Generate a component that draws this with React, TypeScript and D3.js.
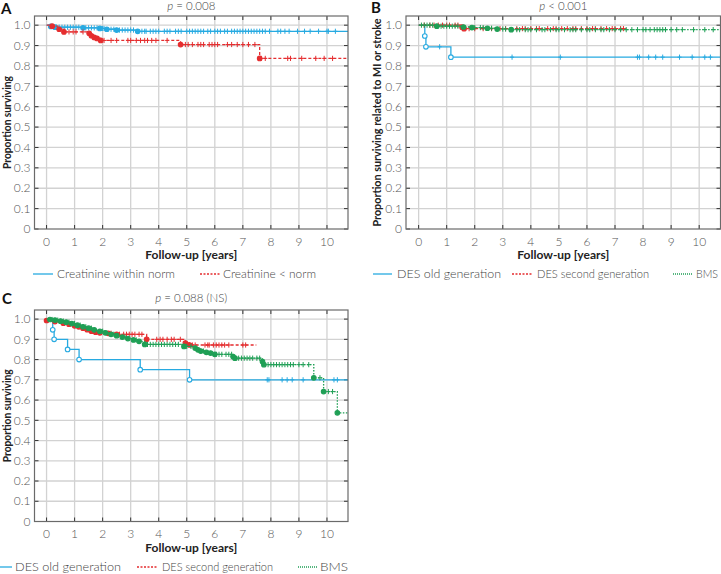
import React from 'react';
import * as d3 from 'd3';

// ---------- shared tick values ----------
const xTickValues = [0, 1, 2, 3, 4, 5, 6, 7, 8, 9, 10];
const yTickValues = [0, 0.1, 0.2, 0.3, 0.4, 0.5, 0.6, 0.7, 0.8, 0.9, 1.0];
const yTickLabels = ['0', '0.1', '0.2', '0.3', '0.4', '0.5', '0.6', '0.7', '0.8', '0.9', '1.0'];

// ---------- Panel A: creatinine ----------
const aBlueTimes = [0.15, 0.3, 1.3, 1.9, 2.15, 2.5, 3.25];
const aBlueSurv = [0.994, 0.99, 0.987, 0.984, 0.98, 0.976, 0.97];
const aBlueCensor = [0.35, 0.45, 0.55, 0.65, 0.75, 0.85, 0.95, 1.05, 1.15, 1.4, 1.5, 1.6, 1.7, 1.8, 2.0, 2.05, 2.3, 2.4, 2.6, 2.7, 2.8, 2.9, 3.0, 3.1, 3.4, 3.5, 3.55, 3.7, 3.8, 3.9, 4.0, 4.2, 4.3, 4.4, 4.6, 4.7, 4.8, 5.0, 5.1, 5.2, 5.3, 5.4, 5.5, 5.6, 5.75, 5.85, 6.0, 6.1, 6.2, 6.35, 6.45, 6.6, 6.7, 6.8, 6.9, 7.0, 7.1, 7.2, 7.3, 7.4, 7.5, 7.6, 7.7, 7.8, 7.95, 8.25, 8.35, 8.5, 8.65, 8.95, 9.2, 9.4, 9.7, 10.0, 10.05, 10.3];
const aRedTimes = [0.2, 0.45, 0.62, 1.52, 1.6, 1.7, 1.8, 1.93, 4.78, 7.6];
const aRedSurv = [0.995, 0.98, 0.967, 0.96, 0.948, 0.94, 0.935, 0.925, 0.905, 0.837];
const aRedCensor = [0.8, 0.95, 1.05, 1.3, 2.05, 2.3, 2.5, 2.9, 3.0, 3.2, 3.35, 3.5, 3.6, 3.75, 3.9, 4.3, 4.95, 5.05, 5.2, 5.4, 5.5, 5.6, 5.8, 5.9, 6.0, 6.1, 6.45, 6.6, 6.8, 7.0, 7.2, 7.43, 7.65, 7.8, 8.6, 8.7, 9.1, 9.6, 9.9, 10.2];

// ---------- Panel B: MI or stroke ----------
const bBlueTimes = [0.22, 0.26, 1.15];
const bBlueSurv = [0.947, 0.894, 0.843];
const bBlueCensor = [0.75, 3.33, 5.05, 7.8, 7.87, 8.2, 8.45, 8.7, 9.3, 9.75, 10.2, 10.4];
const bRedTimes = [1.55, 1.62];
const bRedSurv = [0.99, 0.983];
const bRedCensor = [0.2, 0.4, 0.55, 0.7, 0.85, 1.0, 1.1, 1.3, 1.4, 1.8, 2.0, 2.3, 2.6, 2.9, 3.1, 3.5, 3.7, 3.8, 4.0, 4.2, 4.3, 4.6, 4.8, 4.9, 5.1, 5.3, 5.5, 5.6, 5.8, 6.0, 6.2, 6.3, 6.5, 6.7, 6.9, 7.0, 7.2, 7.3];
const bGreenTimes = [0.65, 1.6, 1.9, 2.45, 2.8, 3.3];
const bGreenSurv = [0.995, 0.991, 0.988, 0.985, 0.981, 0.978];
const bGreenCensor = [0.1, 0.2, 0.3, 0.4, 0.5, 0.8, 0.9, 1.0, 1.1, 1.2, 1.3, 1.4, 2.0, 2.2, 2.3, 2.6, 3.0, 3.1, 3.5, 3.6, 3.8, 3.9, 4.0, 4.2, 4.4, 4.5, 4.7, 4.9, 5.0, 5.2, 5.4, 5.5, 5.6, 5.8, 6.0, 6.1, 6.3, 6.5, 6.6, 6.8, 7.0, 7.2, 7.4, 7.6, 7.8, 8.0, 8.1, 8.25, 8.4, 8.5, 8.6, 8.7, 8.8, 9.0, 9.2, 9.4, 9.8, 10.2, 10.5];

// ---------- Panel C: overall survival ----------
const cBlueTimes = [0.22, 0.27, 0.75, 1.16, 3.34, 5.1];
const cBlueSurv = [0.947, 0.9, 0.85, 0.8, 0.75, 0.7];
const cBlueCensor = [7.87, 7.93, 8.4, 8.58, 8.76, 9.15, 10.25, 10.37];
const cRedTimes = [0.0, 0.3, 0.6, 0.8, 1.0, 1.15, 1.3, 1.45, 1.6, 1.75, 1.9, 2.2, 2.5, 3.57, 4.95, 5.1];
const cRedSurv = [0.993, 0.988, 0.98, 0.975, 0.967, 0.962, 0.955, 0.948, 0.94, 0.935, 0.932, 0.93, 0.925, 0.9, 0.882, 0.872];
const cRedCensor = [0.5, 1.1, 2.3, 2.6, 2.75, 2.85, 2.95, 3.05, 3.15, 3.3, 3.4, 3.93, 4.05, 4.15, 4.3, 4.45, 4.55, 4.77, 5.2, 5.3, 5.65, 5.75, 5.8, 5.95, 6.05, 6.15, 6.25, 6.35, 6.5, 7.0, 7.1];
const cGreenTimes = [0.12, 0.3, 0.5, 0.7, 0.9, 1.1, 1.3, 1.5, 1.7, 1.9, 2.1, 2.3, 2.5, 2.7, 2.9, 3.1, 3.3, 3.5, 4.9, 5.3, 5.4, 5.5, 5.7, 5.85, 6.0, 6.65, 6.72, 7.7, 7.75, 9.53, 9.88, 10.37];
const cGreenSurv = [0.998, 0.995, 0.99, 0.985, 0.978, 0.97, 0.962, 0.955, 0.947, 0.94, 0.932, 0.925, 0.918, 0.911, 0.904, 0.897, 0.89, 0.875, 0.865, 0.857, 0.848, 0.842, 0.836, 0.832, 0.826, 0.815, 0.807, 0.79, 0.775, 0.71, 0.642, 0.537];
const cGreenCensor = [0.2, 0.4, 0.6, 0.8, 1.0, 1.2, 1.4, 1.6, 2.0, 2.4, 2.8, 3.2, 3.6, 3.7, 3.8, 3.9, 4.0, 4.1, 4.2, 4.3, 4.4, 4.5, 4.6, 4.7, 5.0, 5.15, 5.6, 6.05, 6.15, 6.25, 6.4, 6.5, 6.6, 6.85, 6.95, 7.05, 7.15, 7.25, 7.35, 7.5, 7.6, 7.9, 8.0, 8.1, 8.2, 8.3, 8.4, 8.5, 8.6, 8.7, 8.8, 9.0, 9.15, 9.35, 9.75, 10.05, 10.2];

// ---------- styles ----------
const BLUE = '#27aae1';
const RED = '#e52d2f';
const GREEN = '#1f9f55';
const GRID = '#d2d2d2';
const FRAME = '#6a6a6a';
const FONT = 'Lato, "Noto Sans", sans-serif';

type Curve = {
  times: number[];
  surv: number[];
  censor: number[];
  end: number;
  color: string;
  dash: string | null;
  hollow: boolean;
};

type LegendItem = { label: string; color: string; dash: string | null; x0: number; x1: number; tx: number; w: number };

type PanelProps = {
  left: number; right: number; top: number; bottom: number;
  xDomain: [number, number];
  letter: string; letterX: number; letterY: number;
  titleRest: string; titleY: number;
  yLabel: string; yLabelX: number; yLabelLen: number;
  curves: Curve[];
  legend: LegendItem[]; legendY: number;
};

function survAt(c: Curve, t: number): number {
  let s = 1;
  for (let i = 0; i < c.times.length; i++) if (c.times[i] <= t) s = c.surv[i];
  return s;
}

function Panel(p: PanelProps) {
  const x = d3.scaleLinear().domain(p.xDomain).range([p.left, p.right]);
  const y = d3.scaleLinear().domain([0, 1.045]).range([p.bottom, p.top]);
  const line = d3.line<[number, number]>().x(d => x(d[0])).y(d => y(d[1])).curve(d3.curveStepAfter);
  const cx = (p.left + p.right) / 2;
  const cy = (p.top + p.bottom) / 2;
  return (
    <g>
      {xTickValues.map(v => (
        <line key={'gx' + v} x1={x(v)} x2={x(v)} y1={p.top} y2={p.bottom} stroke={GRID} strokeWidth={1.3} />
      ))}
      {yTickValues.slice(1).map(v => (
        <line key={'gy' + v} x1={p.left} x2={p.right} y1={y(v)} y2={y(v)} stroke={GRID} strokeWidth={1.3} />
      ))}
      {xTickValues.map(v => (
        <g key={'tx' + v}>
          <line x1={x(v)} x2={x(v)} y1={p.bottom} y2={p.bottom - 4} stroke="#333" strokeWidth={1} />
          <line x1={x(v)} x2={x(v)} y1={p.top} y2={p.top + 4} stroke="#333" strokeWidth={1} />
        </g>
      ))}
      {yTickValues.map(v => (
        <g key={'ty' + v}>
          <line x1={p.left} x2={p.left + 4} y1={y(v)} y2={y(v)} stroke="#333" strokeWidth={1} />
          <line x1={p.right} x2={p.right - 4} y1={y(v)} y2={y(v)} stroke="#333" strokeWidth={1} />
        </g>
      ))}
      {p.curves.map((c, ci) => {
        const pts: [number, number][] = [[0, 1], ...c.times.map((t, i) => [t, c.surv[i]] as [number, number]), [c.end, c.surv[c.surv.length - 1]]];
        return (
          <g key={'c' + ci}>
            <path d={line(pts) || ''} fill="none" stroke={c.color} strokeWidth={1.3} strokeDasharray={c.dash || undefined} />
            {c.censor.map((t, i) => {
              const sx = x(t);
              const sy = y(survAt(c, t));
              return (
                <g key={'cs' + i}>
                  <line x1={sx} x2={sx} y1={sy - 2.6} y2={sy + 2.6} stroke={c.color} strokeWidth={1} />
                  <line x1={sx - 2} x2={sx + 2} y1={sy} y2={sy} stroke={c.color} strokeWidth={1} />
                </g>
              );
            })}
            {c.times.map((t, i) => (
              <circle key={'ev' + i} cx={x(t)} cy={y(c.surv[i])} r={2.3}
                fill={c.hollow ? '#ffffff' : c.color} stroke={c.color} strokeWidth={1.1} />
            ))}
          </g>
        );
      })}
      <rect x={p.left} y={p.top} width={p.right - p.left} height={p.bottom - p.top} fill="none" stroke={FRAME} strokeWidth={1.2} />
      {xTickValues.map(v => (
        <text key={'lx' + v} x={x(v)} y={p.bottom + 16.5} textAnchor="middle" fontSize={12} fontWeight={300} fill="#555" fontFamily={FONT}>{v}</text>
      ))}
      {yTickValues.map((v, i) => (
        <text key={'ly' + v} x={p.left - 4} y={y(v) + 4.2} textAnchor="end" fontSize={12} fontWeight={300} fill="#555" fontFamily={FONT}>{yTickLabels[i]}</text>
      ))}
      <text x={cx} y={p.bottom + 30} textAnchor="middle" fontSize={12} fontWeight="bold" fill="#222" fontFamily={FONT}>Follow-up [years]</text>
      <text transform={`translate(${p.yLabelX},${cy}) rotate(-90)`} textAnchor="middle" fontSize={11.5} fontWeight="bold" fill="#222" fontFamily={FONT}
        textLength={p.yLabelLen} lengthAdjust="spacingAndGlyphs">{p.yLabel}</text>
      <text x={cx} y={p.titleY} textAnchor="middle" fontSize={11.5} fontWeight={300} fill="#444" fontFamily={FONT}>
        <tspan fontStyle="italic">p</tspan>{p.titleRest}
      </text>
      <text x={p.letterX} y={p.letterY} fontSize={15} fontWeight="bold" fill="#111" fontFamily={FONT}>{p.letter}</text>
      {p.legend.map((l, i) => (
        <g key={'lg' + i}>
          <line x1={l.x0} x2={l.x1} y1={p.legendY} y2={p.legendY} stroke={l.color} strokeWidth={1.3} strokeDasharray={l.dash || undefined} />
          <text x={l.tx} y={p.legendY + 4.3} fontSize={12.5} fontWeight={300} fill="#444" fontFamily={FONT}
            textLength={l.w} lengthAdjust="spacingAndGlyphs">{l.label}</text>
        </g>
      ))}
    </g>
  );
}

export default function App() {
  const curvesA: Curve[] = [
    { times: aBlueTimes, surv: aBlueSurv, censor: aBlueCensor, end: 10.75, color: BLUE, dash: null, hollow: false },
    { times: aRedTimes, surv: aRedSurv, censor: aRedCensor, end: 10.75, color: RED, dash: '3,2', hollow: false },
  ];
  const curvesB: Curve[] = [
    { times: bBlueTimes, surv: bBlueSurv, censor: bBlueCensor, end: 10.76, color: BLUE, dash: null, hollow: true },
    { times: bRedTimes, surv: bRedSurv, censor: bRedCensor, end: 7.4, color: RED, dash: '3,2', hollow: false },
    { times: bGreenTimes, surv: bGreenSurv, censor: bGreenCensor, end: 10.76, color: GREEN, dash: '1.5,1.5', hollow: false },
  ];
  const curvesC: Curve[] = [
    { times: cBlueTimes, surv: cBlueSurv, censor: cBlueCensor, end: 10.75, color: BLUE, dash: null, hollow: true },
    { times: cRedTimes, surv: cRedSurv, censor: cRedCensor, end: 7.48, color: RED, dash: '3,2', hollow: false },
    { times: cGreenTimes, surv: cGreenSurv, censor: cGreenCensor, end: 10.75, color: GREEN, dash: '1.5,1.5', hollow: false },
  ];
  return (
    <svg width={721} height={574} style={{ position: 'absolute', left: 0, top: 0, background: '#fff' }}>
      <Panel left={34.5} right={348} top={16} bottom={229} xDomain={[-0.43, 10.75]}
        letter="A" letterX={1} letterY={14} titleRest=" = 0.008" titleY={10}
        yLabel="Proportion surviving" yLabelX={11} yLabelLen={93}
        curves={curvesA} legendY={274}
        legend={[
          { label: 'Creatinine within norm', color: BLUE, dash: null, x0: 33, x1: 53, tx: 57, w: 118 },
          { label: 'Creatinine < norm', color: RED, dash: '2,1.5', x0: 200, x1: 220, tx: 223, w: 93 },
        ]} />
      <Panel left={406} right={720.5} top={16} bottom={229} xDomain={[-0.45, 10.76]}
        letter="B" letterX={371} letterY={13} titleRest=" < 0.001" titleY={10}
        yLabel="Proportion surviving related to MI or stroke" yLabelX={381} yLabelLen={208}
        curves={curvesB} legendY={274}
        legend={[
          { label: 'DES old generation', color: BLUE, dash: null, x0: 373, x1: 392, tx: 397, w: 104 },
          { label: 'DES second generation', color: RED, dash: '2,1.5', x0: 512, x1: 532, tx: 537, w: 112 },
          { label: 'BMS', color: GREEN, dash: '1,1', x0: 673, x1: 693, tx: 696, w: 22 },
        ]} />
      <Panel left={34.5} right={348} top={310} bottom={521.5} xDomain={[-0.43, 10.75]}
        letter="C" letterX={2} letterY={304} titleRest=" = 0.088 (NS)" titleY={302}
        yLabel="Proportion surviving" yLabelX={11} yLabelLen={93}
        curves={curvesC} legendY={567}
        legend={[
          { label: 'DES old generation', color: BLUE, dash: null, x0: 0, x1: 12, tx: 15, w: 106 },
          { label: 'DES second generation', color: RED, dash: '2,1.5', x0: 137, x1: 157, tx: 162, w: 111 },
          { label: 'BMS', color: GREEN, dash: '1,1', x0: 298, x1: 318, tx: 320, w: 28 },
        ]} />
    </svg>
  );
}
